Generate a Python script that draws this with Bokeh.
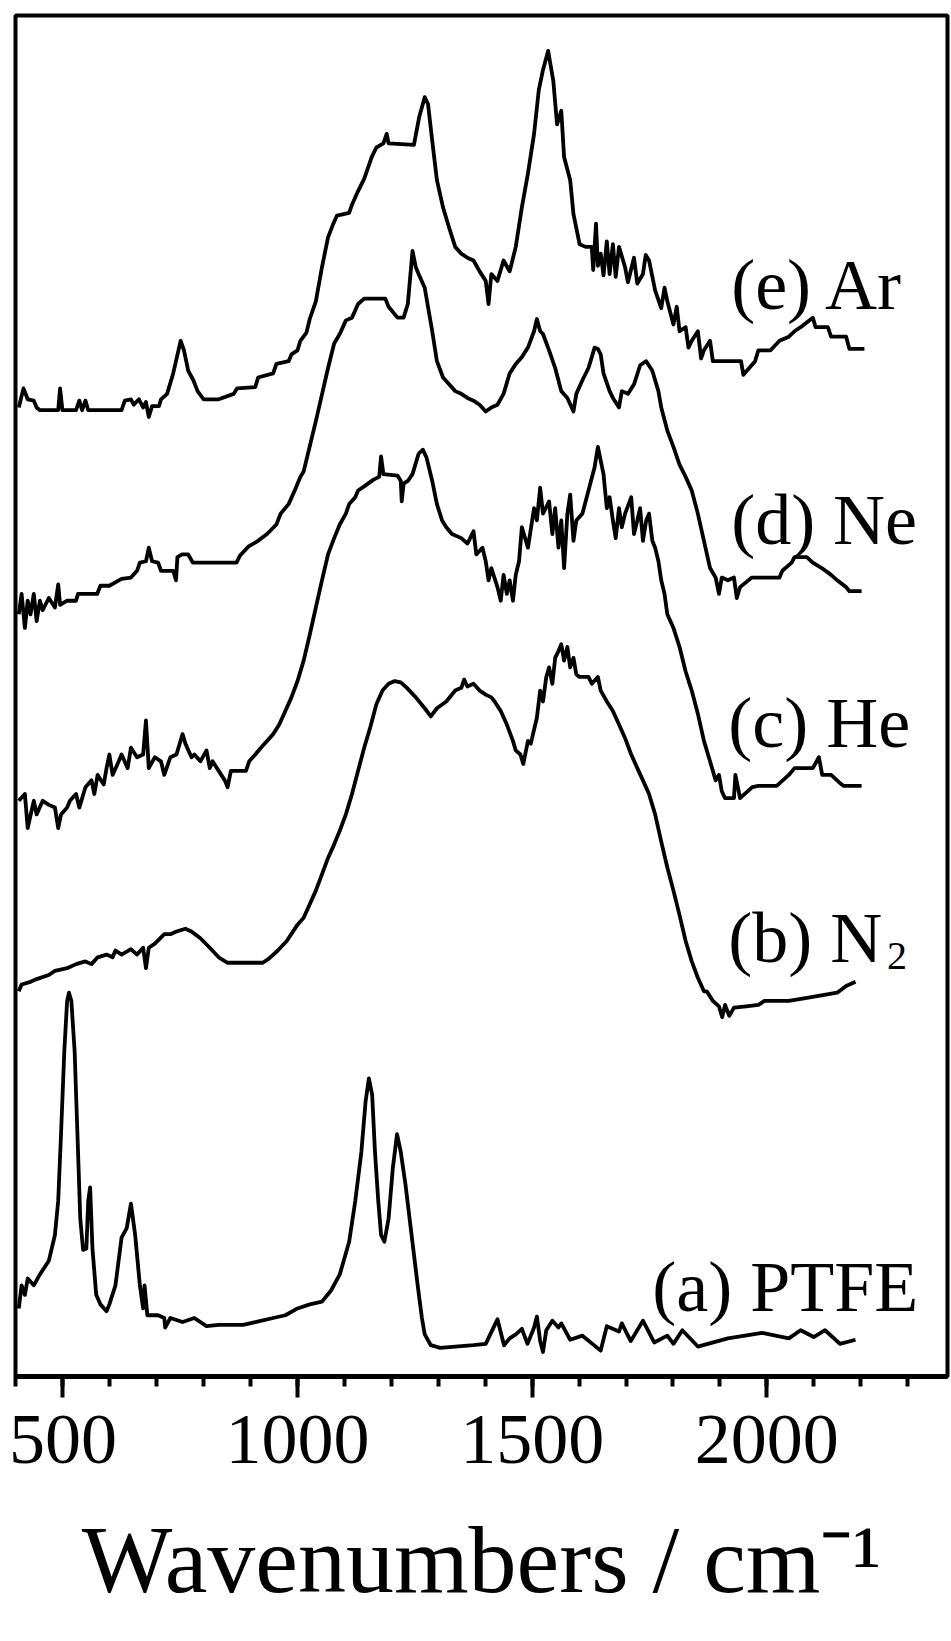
from bokeh.plotting import figure
from bokeh.models import FixedTicker, Range1d, Label
from bokeh.embed import file_html
from bokeh.resources import INLINE

# ---------------- data (wavenumber / cm^-1, offset intensity, arbitrary units) ----------------
ar_wn = [406, 416, 425, 438, 444, 451, 490, 494, 499, 528, 535, 541, 548, 554, 625, 632, 645, 651, 662, 671,
         677, 683, 690, 705, 709, 722, 735, 751, 758, 767, 778, 787, 800, 832, 864, 871, 910, 916, 948, 955,
         981, 987, 1000, 1006, 1019, 1026, 1039, 1052, 1065, 1075, 1084, 1110, 1116, 1129, 1142, 1149, 1158,
         1168, 1183, 1190, 1194, 1248, 1259, 1271, 1278, 1287, 1297, 1310, 1323, 1336, 1349, 1362, 1375, 1388,
         1401, 1407, 1413, 1426, 1439, 1452, 1465, 1478, 1491, 1504, 1514, 1523, 1534, 1540, 1545, 1553, 1562,
         1568, 1581, 1588, 1601, 1614, 1627, 1630, 1636, 1640, 1646, 1652, 1659, 1665, 1672, 1678, 1685, 1698,
         1704, 1717, 1724, 1736, 1742, 1749, 1762, 1775, 1782, 1788, 1801, 1808, 1814, 1827, 1833, 1840, 1853,
         1860, 1866, 1879, 1885, 1917, 1945, 1950, 1975, 1982, 2008, 2027, 2047, 2059, 2072, 2098, 2104, 2130,
         2137, 2169, 2176, 2208]
ar_abs = [71.2, 72.6, 71.8, 71.7, 71.2, 71.0, 71.0, 72.6, 71.0, 71.0, 71.7, 71.0, 71.7, 71.0, 71.0, 71.7, 71.8,
          71.4, 71.8, 71.2, 71.6, 70.5, 71.3, 71.3, 71.8, 72.2, 73.7, 76.1, 75.4, 73.9, 73.2, 72.4, 71.8, 71.8,
          72.2, 72.6, 72.7, 73.4, 73.7, 74.4, 74.6, 75.1, 75.4, 76.1, 76.7, 77.7, 79.0, 81.5, 83.7, 84.6, 85.3,
          85.5, 86.1, 87.1, 88.0, 88.7, 89.6, 90.3, 90.6, 91.3, 90.6, 90.5, 92.5, 94.0, 93.5, 90.8, 87.9, 85.9,
          84.4, 83.0, 82.5, 82.2, 82.0, 81.2, 80.5, 78.8, 81.0, 80.5, 82.0, 81.2, 83.0, 85.9, 88.4, 91.3, 94.5,
          96.0, 97.4, 96.2, 95.2, 92.0, 93.0, 89.6, 87.9, 85.4, 83.2, 83.0, 83.0, 81.3, 84.7, 81.6, 82.5, 80.9,
          83.4, 81.0, 83.2, 80.8, 83.0, 81.5, 80.4, 82.2, 80.3, 81.0, 82.4, 82.0, 79.8, 78.5, 80.0, 79.0, 77.3,
          78.6, 76.8, 77.1, 75.6, 76.1, 76.8, 74.8, 75.4, 76.1, 74.6, 74.6, 74.6, 73.6, 74.6, 75.4, 75.4, 76.1,
          76.4, 76.8, 77.1, 77.8, 77.1, 77.1, 76.4, 76.4, 75.5, 75.5]

ne_wn = [406, 412, 419, 425, 431, 438, 444, 451, 457, 470, 483, 490, 494, 509, 528, 532, 573, 580, 599, 625, 645,
         658, 664, 677, 683, 690, 703, 709, 735, 741, 744, 754, 767, 777, 870, 877, 896, 916, 935, 955, 964, 981,
         994, 1006, 1013, 1039, 1065, 1078, 1090, 1103, 1116, 1129, 1142, 1187, 1194, 1213, 1226, 1235, 1245,
         1252, 1258, 1271, 1287, 1297, 1310, 1323, 1336, 1349, 1362, 1375, 1388, 1401, 1413, 1426, 1439, 1452,
         1465, 1478, 1491, 1504, 1510, 1517, 1523, 1536, 1549, 1562, 1575, 1588, 1594, 1607, 1620, 1633, 1640,
         1646, 1652, 1665, 1672, 1685, 1691, 1704, 1717, 1730, 1743, 1756, 1769, 1775, 1788, 1801, 1814, 1827,
         1840, 1853, 1866, 1879, 1891, 1898, 1904, 1917, 1930, 1936, 1943, 1968, 2027, 2033, 2053, 2059, 2085,
         2098, 2117, 2137, 2150, 2169, 2176, 2202]
ne_abs = [56.0, 57.5, 55.0, 57.0, 56.0, 57.5, 55.5, 57.0, 56.3, 57.2, 56.5, 58.2, 56.7, 57.0, 57.0, 57.5, 57.5,
          58.1, 58.1, 58.6, 58.7, 59.2, 59.8, 59.9, 60.9, 59.9, 59.8, 59.2, 59.2, 58.5, 60.2, 60.4, 60.4, 59.8,
          59.8, 60.3, 61.0, 61.4, 61.9, 62.6, 63.4, 64.1, 65.1, 66.1, 66.5, 70.2, 74.1, 75.9, 76.6, 77.6, 77.8,
          78.8, 79.2, 79.2, 78.6, 77.8, 77.8, 78.8, 82.7, 81.5, 81.0, 80.0, 76.8, 74.6, 73.4, 72.9, 72.4, 72.2,
          71.9, 71.7, 71.4, 70.9, 71.2, 71.4, 72.2, 73.7, 74.4, 74.9, 75.6, 76.8, 77.7, 76.8, 76.6, 75.4, 74.1,
          72.4, 71.9, 70.9, 72.2, 73.2, 74.1, 75.6, 75.5, 75.1, 73.7, 72.4, 71.9, 71.2, 72.4, 72.2, 72.9, 74.3,
          74.6, 73.9, 72.4, 71.2, 69.5, 68.3, 67.0, 66.1, 65.1, 63.4, 61.4, 59.4, 58.7, 57.5, 58.7, 58.5, 58.7,
          57.2, 58.0, 58.7, 58.7, 59.2, 59.8, 60.2, 60.2, 59.8, 59.4, 58.9, 58.5, 58.0, 57.7, 57.7]

he_wn = [406, 419, 425, 438, 444, 457, 470, 483, 490, 496, 509, 515, 528, 535, 548, 561, 567, 574, 587, 593, 599,
         606, 619, 625, 638, 645, 658, 671, 677, 683, 696, 709, 716, 729, 742, 755, 761, 774, 780, 793, 806, 813,
         819, 832, 845, 851, 858, 871, 890, 897, 910, 922, 935, 948, 961, 974, 987, 1000, 1013, 1026, 1039, 1052,
         1065, 1078, 1090, 1103, 1110, 1123, 1129, 1142, 1162, 1174, 1178, 1183, 1213, 1220, 1222, 1226, 1235,
         1245, 1258, 1267, 1275, 1287, 1297, 1308, 1317, 1329, 1349, 1362, 1375, 1381, 1394, 1401, 1407, 1413,
         1426, 1433, 1439, 1446, 1452, 1459, 1465, 1472, 1478, 1491, 1504, 1510, 1517, 1523, 1536, 1543, 1549,
         1556, 1562, 1568, 1575, 1581, 1588, 1594, 1607, 1620, 1633, 1640, 1646, 1652, 1659, 1665, 1672, 1678,
         1685, 1691, 1698, 1711, 1717, 1724, 1730, 1736, 1743, 1749, 1756, 1762, 1769, 1775, 1782, 1788, 1801,
         1814, 1827, 1840, 1853, 1866, 1879, 1891, 1898, 1904, 1911, 1930, 1933, 1943, 1969, 1982, 2021, 2034,
         2047, 2059, 2098, 2111, 2118, 2137, 2156, 2163, 2202]
he_abs = [42.3, 42.8, 40.3, 42.3, 41.3, 42.3, 42.0, 41.8, 40.3, 41.3, 41.8, 42.3, 42.8, 41.8, 43.3, 43.8, 42.8,
          44.2, 43.5, 44.7, 45.7, 44.2, 45.2, 45.7, 44.7, 46.2, 45.5, 45.7, 48.2, 44.7, 45.5, 45.2, 44.2, 45.5,
          45.7, 47.2, 46.5, 45.5, 45.7, 45.2, 46.0, 44.7, 45.2, 44.5, 43.8, 43.3, 44.5, 44.5, 44.5, 45.2, 45.7,
          46.2, 46.7, 47.2, 47.9, 48.9, 49.9, 51.1, 52.6, 54.5, 56.5, 58.5, 60.4, 61.6, 62.6, 63.4, 64.1, 64.6,
          65.1, 65.4, 65.9, 66.1, 67.6, 66.3, 66.2, 65.8, 64.3, 65.6, 65.8, 66.3, 67.8, 68.1, 67.5, 65.8, 64.1,
          62.9, 62.4, 61.9, 61.6, 61.2, 62.1, 60.4, 60.9, 59.9, 58.5, 59.4, 58.0, 57.0, 58.9, 57.5, 58.5, 57.0,
          58.9, 59.9, 62.4, 60.9, 63.8, 62.9, 65.3, 63.4, 64.3, 61.9, 63.8, 60.9, 62.9, 59.4, 63.4, 64.8, 61.4,
          62.9, 63.4, 65.1, 66.8, 68.3, 67.3, 66.3, 63.8, 64.6, 62.9, 61.6, 63.8, 62.4, 63.4, 64.6, 61.9, 62.9,
          63.8, 61.4, 62.9, 63.4, 61.4, 60.9, 59.9, 58.5, 57.5, 56.0, 55.0, 53.6, 51.8, 50.4, 48.7, 46.7, 45.2,
          43.8, 44.2, 43.0, 42.5, 42.5, 44.2, 42.5, 43.3, 43.4, 43.4, 43.8, 44.2, 44.7, 44.7, 45.5, 44.2, 44.2,
          43.6, 43.4, 43.4]

n2_wn = [406, 412, 431, 444, 470, 483, 509, 528, 548, 561, 574, 593, 606, 612, 625, 645, 658, 671, 677, 683, 696,
         716, 729, 742, 761, 774, 793, 813, 832, 851, 926, 939, 958, 977, 1000, 1013, 1026, 1039, 1052, 1065,
         1078, 1090, 1103, 1116, 1129, 1142, 1155, 1168, 1181, 1194, 1207, 1220, 1233, 1252, 1271, 1284, 1297,
         1317, 1336, 1349, 1355, 1362, 1375, 1388, 1401, 1413, 1420, 1433, 1446, 1459, 1465, 1475, 1481, 1491,
         1497, 1510, 1517, 1523, 1530, 1536, 1543, 1549, 1556, 1562, 1568, 1575, 1581, 1588, 1594, 1601, 1620,
         1627, 1640, 1646, 1659, 1672, 1685, 1698, 1711, 1724, 1736, 1749, 1762, 1775, 1788, 1801, 1814, 1827,
         1840, 1853, 1866, 1872, 1885, 1898, 1905, 1911, 1920, 1930, 1956, 1982, 1995, 2047, 2098, 2150, 2169,
         2189]
n2_abs = [28.3, 28.8, 29.0, 29.2, 29.5, 29.8, 30.0, 30.3, 30.5, 30.3, 30.8, 31.0, 30.8, 31.3, 31.0, 31.4, 31.0,
          31.5, 30.0, 31.5, 31.8, 32.5, 32.5, 32.7, 32.9, 32.7, 32.2, 31.5, 30.8, 30.4, 30.4, 30.7, 31.3, 32.0,
          33.2, 33.7, 34.7, 35.7, 36.9, 38.1, 39.1, 40.1, 41.3, 42.8, 44.5, 46.2, 47.7, 49.4, 50.4, 50.9, 51.1,
          51.0, 50.6, 49.9, 49.1, 48.5, 49.1, 49.6, 50.4, 50.6, 51.2, 50.7, 50.9, 50.4, 50.1, 49.9, 49.6, 48.9,
          47.9, 46.7, 46.0, 45.7, 45.0, 46.7, 46.5, 48.4, 50.4, 49.6, 51.4, 52.1, 50.9, 52.8, 53.3, 53.8, 52.6,
          53.6, 52.1, 52.8, 51.6, 51.4, 51.4, 50.9, 51.4, 50.4, 49.6, 48.9, 47.9, 46.9, 45.7, 44.7, 43.8, 42.8,
          41.3, 39.3, 37.4, 35.7, 33.9, 32.0, 30.5, 29.3, 28.3, 28.3, 27.6, 27.2, 26.4, 27.3, 26.5, 27.1, 27.2,
          27.3, 27.6, 27.6, 27.9, 28.2, 28.7, 29.0]

ptfe_wn = [406, 412, 419, 425, 438, 451, 470, 483, 490, 496, 503, 509, 513, 518, 525, 531, 537, 543, 550, 554,
           558, 563, 571, 580, 593, 599, 612, 625, 636, 645, 654, 664, 671, 674, 680, 703, 716, 718, 729, 755,
           780, 806, 832, 884, 910, 948, 974, 1000, 1026, 1052, 1071, 1090, 1110, 1123, 1136, 1145, 1152, 1159,
           1165, 1172, 1178, 1185, 1194, 1203, 1212, 1220, 1230, 1243, 1256, 1265, 1271, 1284, 1304, 1336, 1375,
           1401, 1426, 1440, 1452, 1465, 1478, 1490, 1504, 1510, 1517, 1523, 1530, 1543, 1556, 1562, 1581, 1607,
           1646, 1659, 1685, 1691, 1710, 1736, 1760, 1788, 1801, 1820, 1853, 1917, 1990, 2047, 2072, 2100, 2124,
           2156, 2189]
ptfe_abs = [5.0, 6.7, 6.0, 7.2, 6.7, 7.5, 8.5, 10.4, 12.9, 17.8, 23.9, 27.6, 28.2, 27.6, 23.9, 17.8, 11.6, 9.3,
            9.4, 12.9, 13.9, 9.4, 6.0, 5.3, 4.8, 5.3, 6.7, 10.2, 10.9, 12.7, 10.4, 6.7, 5.0, 6.7, 4.5, 4.5, 4.3,
            3.6, 4.3, 4.0, 4.3, 3.7, 3.8, 3.8, 4.0, 4.3, 4.5, 5.0, 5.3, 5.5, 6.3, 7.5, 9.9, 12.9, 16.5, 20.2,
            21.9, 20.7, 16.5, 12.9, 10.4, 9.9, 11.6, 15.3, 17.8, 16.5, 14.1, 10.4, 6.7, 4.3, 3.1, 2.3, 2.1, 2.2,
            2.3, 2.4, 4.2, 2.3, 2.8, 3.1, 3.5, 2.4, 3.6, 4.4, 2.6, 1.8, 3.4, 4.1, 3.6, 3.9, 2.7, 3.0, 1.9, 3.7,
            3.3, 3.9, 2.6, 4.1, 2.5, 3.0, 2.4, 3.4, 2.2, 2.8, 3.2, 2.8, 3.4, 2.9, 3.4, 2.4, 2.7]

series_names = ["(e) Ar", "(d) Ne", "(c) He", "(b) N", "(a) PTFE"]
tick_values = [500, 1000, 1500, 2000]
minor_tick_values = list(range(400, 2400, 100))
x_title = "Wavenumbers / cm\u207b\u00b9"

# ---------------- figure ----------------
FONT = "Liberation Serif"
p = figure(width=951, height=1641, x_range=Range1d(399, 2385), y_range=Range1d(0, 100),
           output_backend="svg", toolbar_location=None,
           min_border_left=15, min_border_right=4, min_border_top=15, min_border_bottom=265)
p.background_fill_color = "white"
p.border_fill_color = "white"
p.outline_line_color = "black"
p.outline_line_width = 4
p.grid.visible = False
p.yaxis.visible = False

ax = p.xaxis[0]
ax.ticker = FixedTicker(ticks=tick_values, minor_ticks=minor_tick_values)
ax.axis_line_width = 5
ax.major_tick_out = 21
ax.major_tick_in = 0
ax.minor_tick_out = 10
ax.minor_tick_in = 0
ax.major_tick_line_width = 4
ax.minor_tick_line_width = 4
ax.major_label_text_font = FONT
ax.major_label_text_font_size = "72px"
ax.major_label_text_color = "black"
ax.major_label_standoff = 18
ax.axis_label = x_title
ax.axis_label_text_font = FONT
ax.axis_label_text_font_size = "96px"
ax.axis_label_text_font_style = "normal"
ax.axis_label_text_color = "black"
ax.axis_label_standoff = 40

for wn, ab in [(ar_wn, ar_abs), (ne_wn, ne_abs), (he_wn, he_abs), (n2_wn, n2_abs), (ptfe_wn, ptfe_abs)]:
    p.line(wn, ab, line_color="black", line_width=3.8, line_join="round")

label_pos = [(1924, 80.2), (1924, 62.9), (1918, 48.0), (1918, 32.2), (1756, 6.6)]
for name, (lx, ly) in zip(series_names, label_pos):
    p.add_layout(Label(x=lx, y=ly, text=name, text_font=FONT, text_font_size="72px",
                       text_baseline="alphabetic", text_align="left", text_color="black"))
p.add_layout(Label(x=2256, y=30.9, text="2", text_font=FONT, text_font_size="40px",
                   text_baseline="alphabetic", text_align="left", text_color="black"))

open("out.html", "w").write(file_html(p, INLINE))
